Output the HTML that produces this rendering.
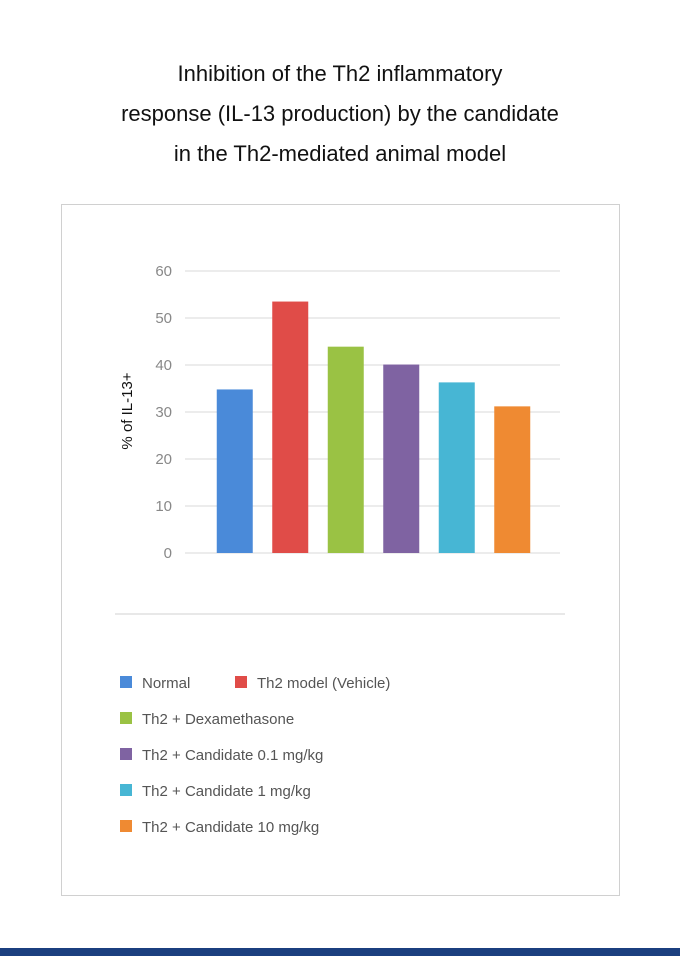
<!DOCTYPE html>
<html><head><meta charset="utf-8"><style>
body{margin:0;width:680px;height:956px;background:#fff;position:relative;overflow:hidden;font-family:"Liberation Sans",sans-serif}
#title{position:absolute;left:0;top:54px;width:680px;text-align:center;font-size:22px;line-height:40px;color:#111}
#box{position:absolute;left:61px;top:204px;width:557px;height:690px;border:1px solid #d0d0d0}
#footer{position:absolute;left:0;top:948px;width:680px;height:8px;background:#1b3f7f}
</style></head><body>
<div id="title">Inhibition of the Th2 inflammatory<br>response (IL-13 production) by the candidate<br>in the Th2-mediated animal model</div>
<div id="box"></div>
<svg id="chart" width="680" height="956" style="position:absolute;left:0;top:0"></svg>
<div id="footer"></div>
<script>
const categories=["Normal","Th2 model (Vehicle)","Th2 + Dexamethasone","Th2 + Candidate 0.1 mg/kg","Th2 + Candidate 1 mg/kg","Th2 + Candidate 10 mg/kg"];
const values=[34.8,53.5,43.9,40.1,36.3,31.2];
const colors=["#4a8ad9","#e04c48","#9ac244","#7f63a2","#47b6d4","#ef8a32"];
const yTicks=[0,10,20,30,40,50,60];
const NS="http://www.w3.org/2000/svg";
const svg=document.getElementById('chart');
const y0=553,y1=271,yMax=60,xL=207,xR=540;
const y=v=>y0-(v/yMax)*(y0-y1);
const band=(xR-xL)/categories.length;
const x=i=>xL+band*i+band/2;
function mk(t,a){const e=document.createElementNS(NS,t);for(const k in a)e.setAttribute(k,a[k]);svg.appendChild(e);return e;}
yTicks.forEach(t=>{
 const l=mk('line',{x1:185,x2:560,y1:y(t),y2:y(t),stroke:'#d9d9d9','stroke-width':1});
 
 
 const tx=mk('text',{x:172,y:y(t)+5,'text-anchor':'end','font-size':15,fill:'#888','font-family':'Liberation Sans, sans-serif'});
 tx.textContent=t;
 
 
});
const yt=mk('text',{x:0,y:0,transform:'translate(132,411) rotate(-90)','text-anchor':'middle','font-size':15,fill:'#111','font-family':'Liberation Sans, sans-serif'});
yt.textContent='% of IL-13+';


values.forEach((v,i)=>{
 const r=mk('rect',{x:x(i)-18,y:y(v),width:36,height:y0-y(v),fill:colors[i]});
 
 
});
const sep=mk('line',{x1:115,x2:565,y1:614,y2:614,stroke:'#d0d0d0','stroke-width':1});


const legPos=[[120,682],[235,682],[120,718],[120,754],[120,790],[120,826]];
categories.forEach((c,i)=>{
 const [lx,ly]=legPos[i];
 const s=mk('rect',{x:lx,y:ly-6,width:12,height:12,fill:colors[i]});
 
 
 const t=mk('text',{x:lx+22,y:ly+6,'font-size':15,fill:'#555','font-family':'Liberation Sans, sans-serif'});
 t.textContent=c;
 
 
});
</script>
</body></html>
